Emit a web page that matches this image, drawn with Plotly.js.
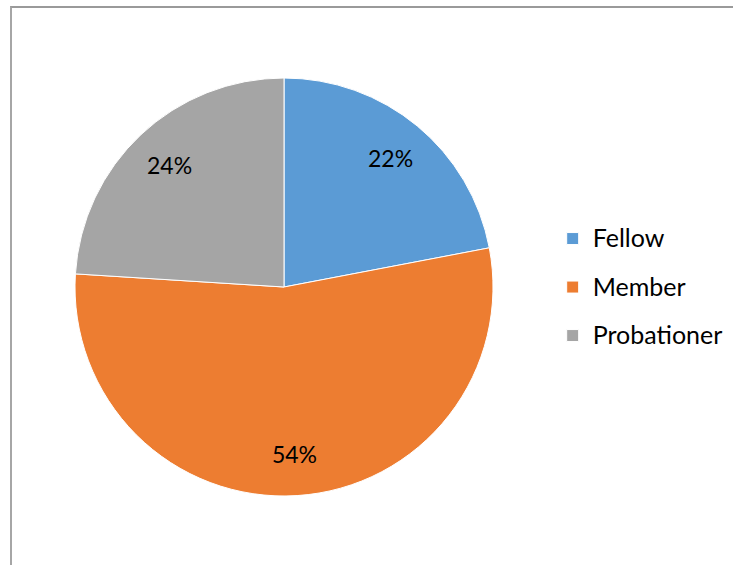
<!DOCTYPE html>
<html><head><meta charset="utf-8">
<script src="https://cdn.plot.ly/plotly-3.0.1.min.js"></script>
<style>
html,body{margin:0;padding:0;background:#fff;overflow:hidden;}
#frame{position:absolute;left:10px;top:6px;width:800px;height:700px;border-left:2px solid #a6a6a6;border-top:2px solid #9a9a9a;pointer-events:none;}
#chart{position:absolute;left:0;top:0;width:733px;height:565px;}
</style></head>
<body>
<div id="chart"></div>
<div id="frame"></div>
<script>
const categories = ["Fellow", "Member", "Probationer"];
const values = [22, 54, 24];
const colors = ["#5b9bd5", "#ed7d31", "#a5a5a5"];

const FONT = 'Lato, "Open Sans", sans-serif';
const pieDomain = {x: [75/733, 493/733], y: [69/565, 487/565]};
const legendLabels = categories.map(c => '<span style="font-size:25px;baseline-shift:5px">' + c + '</span>');

Plotly.newPlot('chart', [{
  type: 'pie',
  labels: legendLabels,
  values: values,
  sort: false,
  direction: 'clockwise',
  rotation: 0,
  marker: {colors: colors, line: {color: '#ffffff', width: 1}},
  textinfo: 'none',
  domain: pieDomain,
  hoverinfo: 'skip'
}, {
  type: 'pie',
  labels: legendLabels,
  values: values,
  sort: false,
  direction: 'clockwise',
  rotation: 0,
  hole: 0.6,
  showlegend: false,
  marker: {colors: ['rgba(0,0,0,0)','rgba(0,0,0,0)','rgba(0,0,0,0)'], line: {width: 0}},
  textinfo: 'percent',
  textposition: 'inside',
  insidetextorientation: 'horizontal',
  textfont: {family: FONT, size: 23, color: '#000000'},
  domain: pieDomain,
  hoverinfo: 'skip'
}], {
  width: 733, height: 565,
  margin: {l: 0, r: 0, t: 0, b: 0, autoexpand: false},
  paper_bgcolor: '#ffffff',
  showlegend: true,
  legend: {x: 0.754, y: 0.4915, xanchor: 'left', yanchor: 'middle',
    font: {family: FONT, size: 35, color: '#000000'}},
}, {displayModeBar: false, staticPlot: true});
</script>
</body></html>
